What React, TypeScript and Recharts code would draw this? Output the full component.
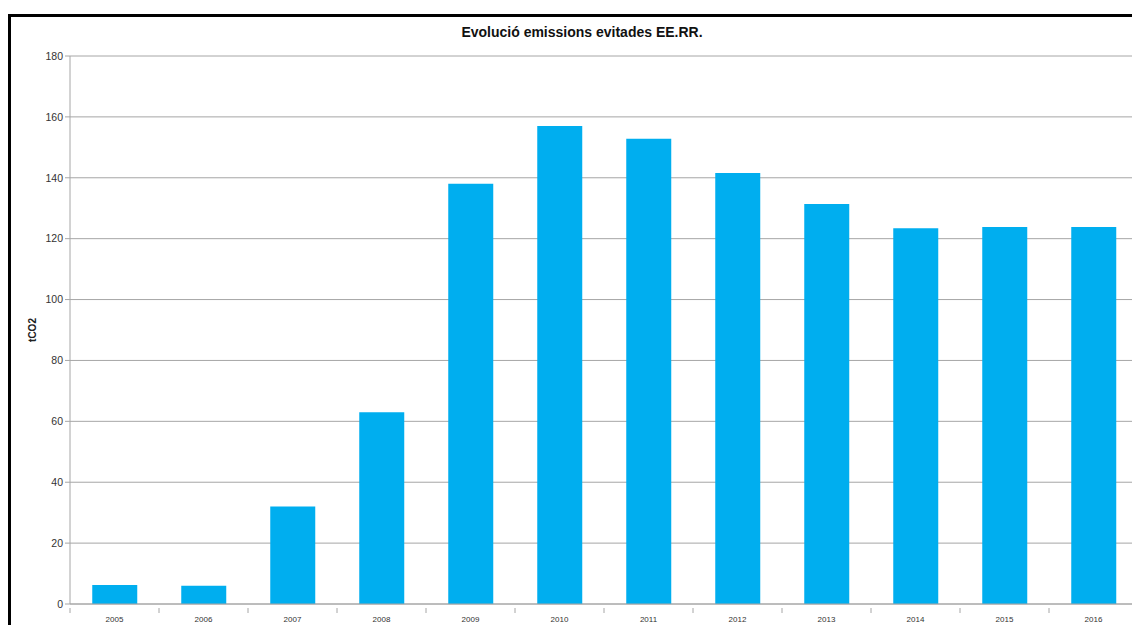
import { BarChart, Bar, XAxis, YAxis, CartesianGrid } from "recharts";

const years = ["2005", "2006", "2007", "2008", "2009", "2010", "2011", "2012", "2013", "2014", "2015", "2016"];
const emissions = [6.2, 6, 32, 63, 138, 157, 152.8, 141.6, 131.4, 123.4, 123.8, 123.8];
const yTicks = [0, 20, 40, 60, 80, 100, 120, 140, 160, 180];

const data = years.map((year, i) => ({ year, tco2: emissions[i] }));

const gray = "#a6a6a6";
const font = "'Liberation Sans', Arial, sans-serif";

// category ticks sit between the bars, like the spreadsheet original
function YearTick(props: any) {
  const { x, y, payload, index, visibleTicksCount } = props;
  const half = payload?.offset ?? 44.5;
  const isLast = index === visibleTicksCount - 1;
  return (
    <g>
      <line x1={x - half} x2={x - half} y1={y - 4} y2={y + 1} stroke={gray} />
      {isLast && <line x1={x + half} x2={x + half} y1={y - 4} y2={y + 1} stroke={gray} />}
      <text x={x} y={y + 10} textAnchor="middle" fontSize={8} fill="#333" fontFamily={font}>
        {payload.value}
      </text>
    </g>
  );
}

function UnitLabel(props: any) {
  const { viewBox } = props;
  const cx = 21;
  const cy = viewBox.y + viewBox.height / 2;
  return (
    <text
      x={cx}
      y={cy}
      transform={`rotate(-90, ${cx}, ${cy})`}
      textAnchor="middle"
      dominantBaseline="central"
      fontSize={10}
      fontWeight="bold"
      fill="#222"
      fontFamily={font}
    >
      tCO2
    </text>
  );
}

export default function App() {
  return (
    <div style={{ paddingTop: 6, height: 611, width: 1132, overflow: "hidden" }}>
      <div
        style={{
          position: "relative",
          borderTop: "3px solid #000",
          borderLeft: "3px solid #000",
          height: 608,
          width: 1129,
          background: "#fff",
        }}
      >
        <div
          style={{
            position: "absolute",
            left: 0,
            width: 1142,
            top: 7,
            textAlign: "center",
            fontFamily: font,
            fontWeight: "bold",
            fontSize: 14,
            color: "#111",
          }}
        >
          Evolució emissions evitades EE.RR.
        </div>
        <BarChart
          width={1129}
          height={608}
          data={data}
          margin={{ top: 39, right: 2, left: 0, bottom: 0 }}
          barCategoryGap="25%"
        >
          <CartesianGrid vertical={false} stroke={gray} strokeDasharray="" />
          <XAxis
            dataKey="year"
            height={21}
            axisLine={{ stroke: gray }}
            tickLine={false}
            interval={0}
            tick={<YearTick />}
          />
          <YAxis
            width={59}
            domain={[0, 180]}
            ticks={yTicks}
            interval={0}
            axisLine={{ stroke: gray }}
            tickLine={{ stroke: gray }}
            tickSize={5}
            tick={{ fontSize: 10.5, fill: "#333", fontFamily: font }}
            label={<UnitLabel />}
          />
          <Bar dataKey="tco2" fill="#00aeef" isAnimationActive={false} />
        </BarChart>
      </div>
    </div>
  );
}
